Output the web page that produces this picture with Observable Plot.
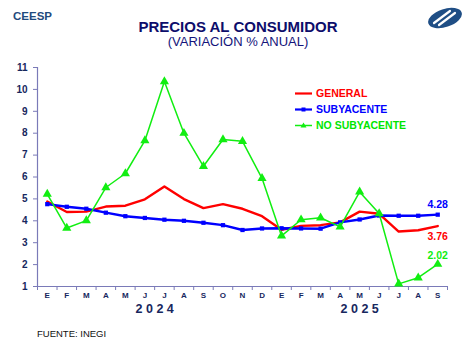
<!DOCTYPE html>
<html>
<head>
<meta charset="utf-8">
<script src="https://cdn.jsdelivr.net/npm/d3@7"></script>
<script src="https://cdn.jsdelivr.net/npm/@observablehq/plot@0.6"></script>
<style>
  html, body { margin: 0; padding: 0; background: #fff; }
  body { width: 476px; height: 356px; overflow: hidden; font-family: "Liberation Sans", Arial, sans-serif; }
  #wrap { position: relative; width: 476px; height: 356px; }
  #header { position: relative; height: 56px; }
  .abs { position: absolute; white-space: nowrap; }
  #ceesp { left: 13px; top: 10px; font-size: 11.5px; line-height: 12px; font-weight: bold; color: #1f4a7d; }
  #title { left: 0; width: 476px; text-align: center; top: 21px; font-size: 15px; line-height: 12px; font-weight: bold; color: #0d0d6b; }
  #subtitle { left: 0; width: 476px; text-align: center; top: 36px; font-size: 13px; line-height: 11px; color: #14147a; }
  #logo { left: 426px; top: 6px; }
  #legend { left: 295px; top: 85px; font-size: 10.5px; font-weight: bold; }
  .item { height: 16px; display: flex; align-items: center; }
  .item svg { margin-right: 4px; }
  #footer { left: 37px; top: 328px; font-size: 9.5px; line-height: 11px; color: #111; }
  #chart { position: absolute; left: 0; top: 56px; }
</style>
</head>
<body>
<div id="wrap">
  <div id="header">
    <div id="ceesp" class="abs">CEESP</div>
    <div id="title" class="abs">PRECIOS AL CONSUMIDOR</div>
    <div id="subtitle" class="abs">(VARIACIÓN % ANUAL)</div>
    <svg id="logo" class="abs" width="38" height="24" viewBox="0 0 38 24">
      <ellipse cx="19" cy="12" rx="17.5" ry="9" transform="rotate(-18 19 12)" fill="#1f4e85"/>
      <path d="M8 17 L24 5" stroke="#fff" stroke-width="2.2" stroke-linecap="round"/>
      <path d="M13 19 L29 7" stroke="#fff" stroke-width="2.2" stroke-linecap="round"/>
    </svg>
  </div>
  <div id="chart"></div>
  <div id="legend" class="abs"></div>
  <div id="footer" class="abs">FUENTE: INEGI</div>
</div>
<script>
const months = ["E","F","M","A","M","J","J","A","S","O","N","D","E","F","M","A","M","J","J","A","S"];
const monthYears = [2024,2024,2024,2024,2024,2024,2024,2024,2024,2024,2024,2024,2025,2025,2025,2025,2025,2025,2025,2025,2025];
const general = [4.88,4.40,4.42,4.65,4.69,4.98,5.57,4.99,4.58,4.76,4.55,4.21,3.59,3.77,3.80,3.93,4.42,4.32,3.51,3.57,3.76];
const subyacente = [4.76,4.64,4.55,4.37,4.21,4.13,4.05,4.00,3.91,3.80,3.58,3.65,3.66,3.65,3.64,3.93,4.06,4.24,4.23,4.23,4.28];
const noSubyacente = [5.22,3.67,4.01,5.52,6.16,7.66,10.36,8.00,6.49,7.71,7.63,5.94,3.31,4.05,4.14,3.72,5.32,4.33,1.12,1.40,2.02];
const yTicks = [1,2,3,4,5,6,7,8,9,10,11];
const seriesNames = ["GENERAL","SUBYACENTE","NO SUBYACENTE"];
const seriesColors = ["#ff0000","#0000ff","#11ee11"];

const navy = "#17275e";
const axisColor = "#7a7ab8";
const idx = (d, i) => i;
const val = d => d;

const yearLabels = Array.from(
  d3.rollup(months.map((m, i) => ({i, y: monthYears[i]})), v => d3.mean(v, d => d.i), d => d.y),
  ([year, center]) => ({year: String(year).split("").join(" "), center})
);

const chart = Plot.plot({
  width: 476,
  height: 262,
  marginLeft: 37,
  marginRight: 29,
  marginTop: 11,
  marginBottom: 32,
  x: {type: "linear", domain: [-0.5, months.length - 0.5], axis: null},
  y: {domain: [1, 11], axis: null},
  style: {fontFamily: "'Liberation Sans', Arial, sans-serif", background: "transparent", overflow: "visible"},
  marks: [
    Plot.ruleX([-0.5], {stroke: axisColor, strokeWidth: 1.2}),
    Plot.ruleY([1], {stroke: axisColor, strokeWidth: 1.2}),
    Plot.axisY({ticks: yTicks, tickSize: 4, tickPadding: 6, stroke: axisColor, fill: navy, fontWeight: "bold", fontSize: 10, label: null, tickFormat: d => String(d)}),
    Plot.axisX({ticks: d3.range(-0.5, months.length, 1), tickSize: 4, stroke: axisColor, tickFormat: () => "", label: null}),
    Plot.axisX({ticks: d3.range(months.length), tickFormat: i => months[i], tickSize: 0, tickPadding: 6, fill: navy, fontWeight: "bold", fontSize: 8, label: null}),
    Plot.text(yearLabels, {x: "center", y: () => 1, text: "year", dy: 22, fill: navy, fontWeight: "bold", fontSize: 12.5}),
    Plot.line(general, {x: idx, y: val, stroke: seriesColors[0], strokeWidth: 2.4}),
    Plot.line(subyacente, {x: idx, y: val, stroke: seriesColors[1], strokeWidth: 2.4}),
    Plot.dot(subyacente, {x: idx, y: val, symbol: "square", r: 2.4, fill: seriesColors[1], stroke: null}),
    Plot.line(noSubyacente, {x: idx, y: val, stroke: seriesColors[2], strokeWidth: 1.5}),
    Plot.dot(noSubyacente, {x: idx, y: val, symbol: "triangle", r: 3.4, fill: seriesColors[2], stroke: null}),
    Plot.text(subyacente, Plot.selectLast({x: idx, y: val, text: d => d.toFixed(2), dy: -10, fill: seriesColors[1], fontWeight: "bold", fontSize: 10.5})),
    Plot.text(general, Plot.selectLast({x: idx, y: val, text: d => d.toFixed(2), dy: 11, fill: seriesColors[0], fontWeight: "bold", fontSize: 10.5})),
    Plot.text(noSubyacente, Plot.selectLast({x: idx, y: val, text: d => d.toFixed(2), dy: -9, fill: seriesColors[2], fontWeight: "bold", fontSize: 10.5}))
  ]
});
document.getElementById("chart").appendChild(chart);

const legend = document.getElementById("legend");
seriesNames.forEach((name, k) => {
  const item = document.createElement("div");
  item.className = "item";
  let marker = "";
  if (k === 1) marker = `<rect x="6.5" y="1.5" width="4" height="4" fill="${seriesColors[k]}"/>`;
  if (k === 2) marker = `<path d="M8.5 0.5 L11.5 5.5 L5.5 5.5 Z" fill="${seriesColors[k]}"/>`;
  item.innerHTML = `<svg width="17" height="7"><line x1="0" y1="3.5" x2="17" y2="3.5" stroke="${seriesColors[k]}" stroke-width="${k === 2 ? 1.5 : 2.2}"/>${marker}</svg><span style="color:${k === 2 ? '#00e600' : seriesColors[k]}">${name}</span>`;
  legend.appendChild(item);
});
</script>
</body>
</html>
